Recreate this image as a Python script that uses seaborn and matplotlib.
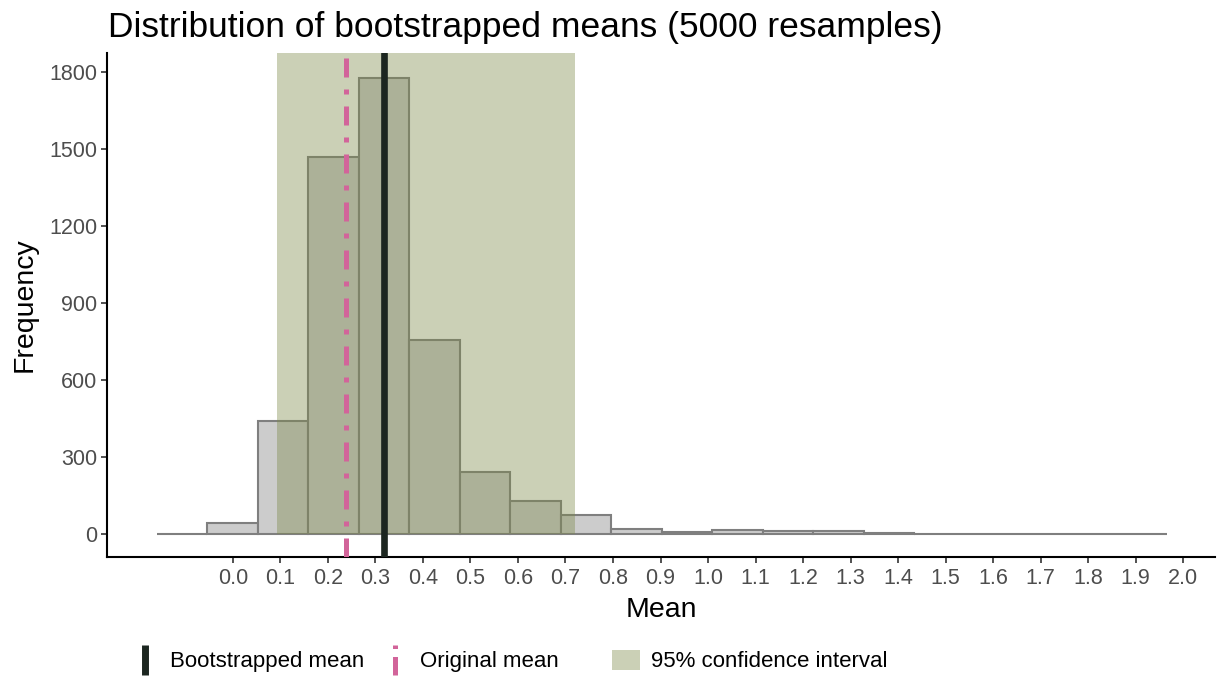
import numpy as np
import pandas as pd
import matplotlib
matplotlib.use("Agg")
import matplotlib.pyplot as plt
from matplotlib.lines import Line2D
from matplotlib.patches import Patch
from matplotlib.legend_handler import HandlerBase
import seaborn as sns

# Histogram of 5000 bootstrapped means: 20 equal bins between min and max
sample_min = -0.160
sample_max = 1.966
counts = [1, 42, 442, 1469, 1778, 755, 240, 129, 73, 18,
          6, 17, 13, 10, 4, 1, 1, 0, 0, 1]
boot_mean = 0.319
orig_mean = 0.239
ci_low, ci_high = 0.093, 0.720
x_ticks = [round(0.1 * i, 1) for i in range(21)]
y_ticks = [0, 300, 600, 900, 1200, 1500, 1800]

n_bins = len(counts)
edges = np.linspace(sample_min, sample_max, n_bins + 1)
centers = (edges[:-1] + edges[1:]) / 2
hist_df = pd.DataFrame({"mean": centers, "count": counts})

sns.set_theme(style="ticks")
plt.rcParams["font.family"] = ["Liberation Sans", "DejaVu Sans"]

fig = plt.figure(figsize=(12.19, 6.79), dpi=100)
ax = fig.add_axes([107 / 1219, 1 - 557 / 679, (1215 - 107) / 1219, (557 - 53) / 679])

sns.histplot(data=hist_df, x="mean", weights="count", bins=n_bins,
             binrange=(sample_min, sample_max), color="#CCCCCC",
             edgecolor="#7F7F7F", linewidth=1.5, alpha=1, ax=ax, zorder=2)

ax.set_xlim(-0.265, 2.067)
ax.set_ylim(-90, 1875)

ci_color = "#7E8A4A"
ax.fill_betweenx([0, 1875], ci_low, ci_high, color=ci_color, alpha=0.4,
                 linewidth=0, zorder=3)

black = "#1C2620"
pink = "#D2649A"
ax.axvline(boot_mean, color=black, lw=4.8, zorder=5)
pink_style = (0, (3.8, 2.4, 1.0, 2.4))
ax.axvline(orig_mean, color=pink, lw=3.6, linestyle=pink_style, zorder=4)

ax.set_xticks(x_ticks)
ax.set_xticklabels([f"{t:.1f}" for t in x_ticks])
ax.set_yticks(y_ticks)
ax.tick_params(axis="both", labelsize=15.5, labelcolor="#4D4D4D", color="#222222",
               length=4, width=1.1, pad=3)
ax.tick_params(axis="x", pad=4)
for s in ("left", "bottom"):
    ax.spines[s].set_linewidth(1.5)
    ax.spines[s].set_color("black")
sns.despine(ax=ax)

ax.set_xlabel("Mean", fontsize=20.5, color="black", labelpad=6)
ax.set_ylabel("Frequency", fontsize=20.5, color="black", labelpad=8)

fig.text(108 / 1219, 1 - 27 / 679, "Distribution of bootstrapped means (5000 resamples)",
         fontsize=25.5, color="black", va="center", ha="left")


class VLineHandler(HandlerBase):
    def create_artists(self, legend, orig_handle, xdescent, ydescent, width, height,
                       fontsize, trans):
        cx = -xdescent + width / 2
        y0 = -ydescent - height * 0.25
        y1 = -ydescent + height * 1.2
        line = Line2D([cx, cx], [y0, y1], color=orig_handle.get_color(),
                      lw=orig_handle.get_linewidth(),
                      linestyle=orig_handle.get_linestyle(),
                      solid_capstyle="butt", dash_capstyle="butt", transform=trans)
        return [line]


h_boot = Line2D([], [], color=black, lw=5.0)
h_orig = Line2D([], [], color=pink, lw=3.6, linestyle=(0, (1.4, 1.6, 1.0, 1.6)))
h_ci = Patch(facecolor="#CBD0B6", edgecolor="none")

legend_items = [
    (h_boot, "Bootstrapped mean", 131),
    (h_orig, "Original mean", 381),
    (h_ci, "95% confidence interval", 612),
]
for handle, label, xpix in legend_items:
    fig.legend(handles=[handle], labels=[label], loc="center left",
               bbox_to_anchor=(xpix / 1219, 1 - 661 / 679), frameon=False,
               fontsize=16, handlelength=1.26, handleheight=1.05, handletextpad=0.48,
               borderpad=0, borderaxespad=0, labelcolor="black",
               handler_map={Line2D: VLineHandler()})

fig.savefig("out.png", dpi=100)
